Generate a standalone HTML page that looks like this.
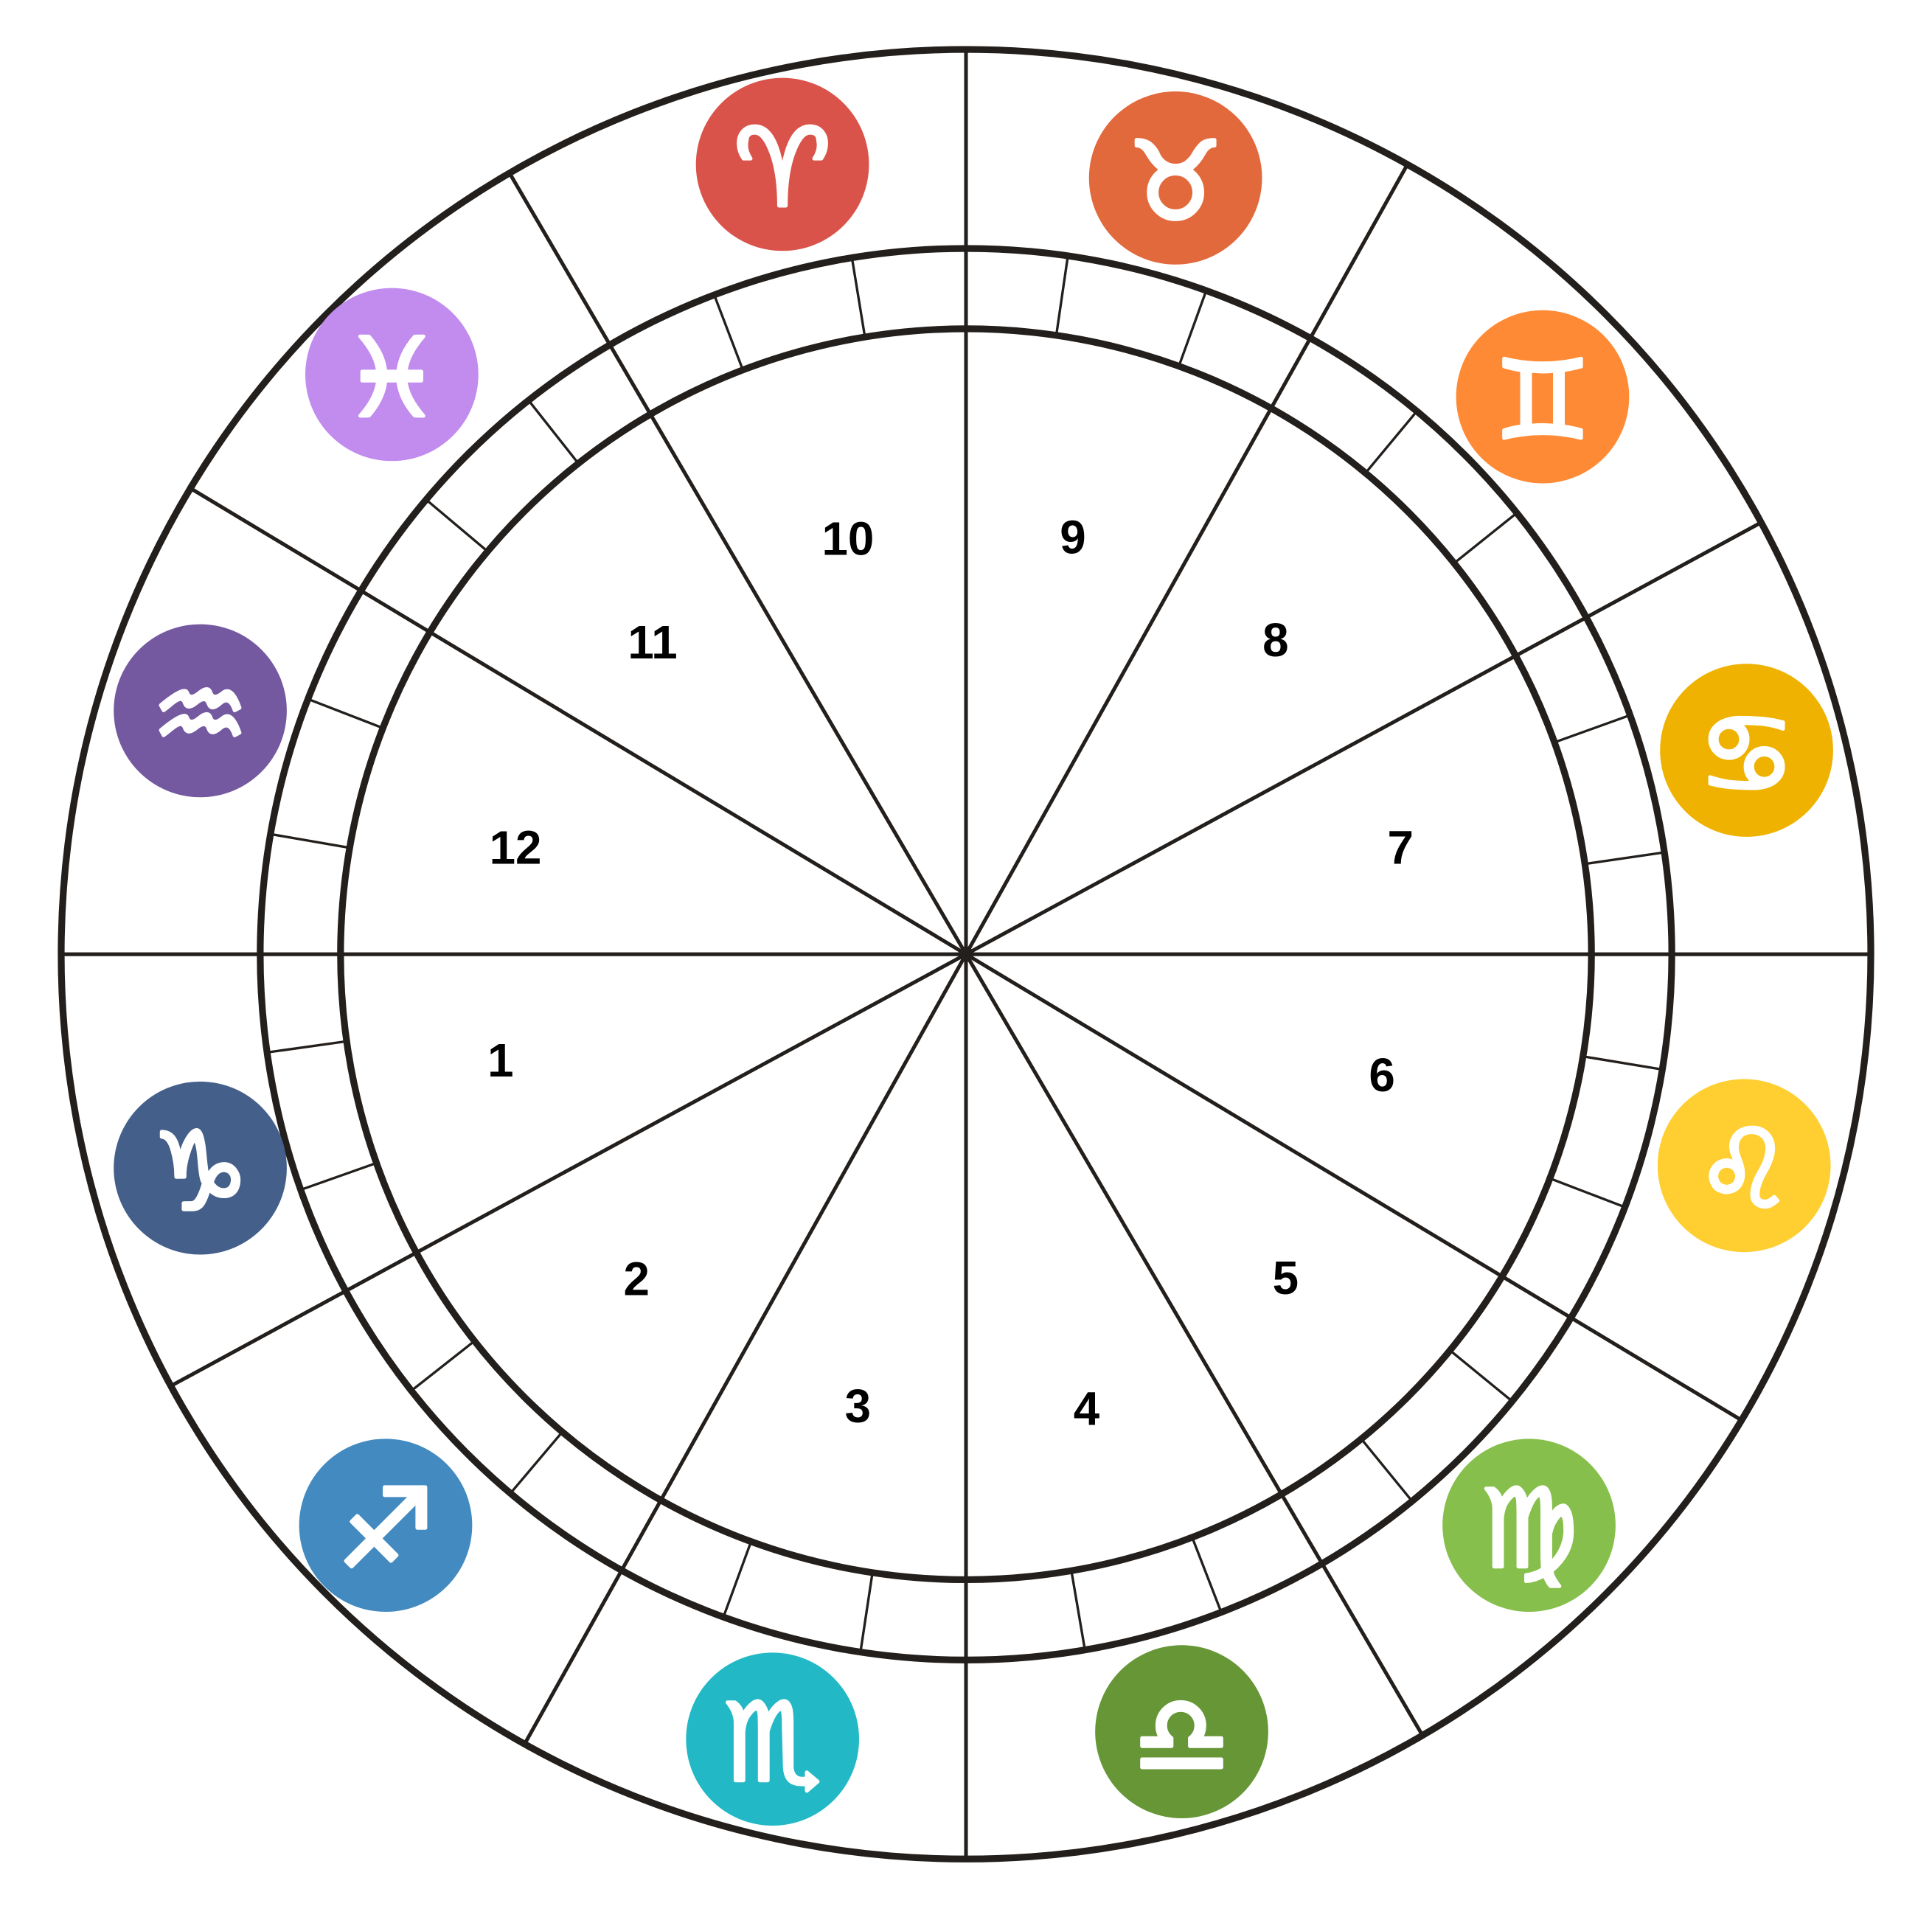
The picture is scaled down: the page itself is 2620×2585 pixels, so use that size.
<!DOCTYPE html>
<html><head><meta charset="utf-8"><style>
html,body{margin:0;padding:0;background:#fff;}
svg{display:block;}
</style></head><body>
<svg id="chart" width="2620" height="2585" viewBox="0 0 1563 1542" preserveAspectRatio="none" xmlns="http://www.w3.org/2000/svg"></svg>
<script>
const spokeAngles = [0, 28.5, 60.8, 90, 120.3, 149];
const tickAngles = [8.3, 19.8, 38.7, 50.3, 70.1, 81.7, 99.3, 110.9, 128.3, 139.9, 158.8, 170.2, 188, 199.5, 218.2, 229.8, 249.9, 261.4, 279.7, 291.2, 309.2, 320.7, 339, 350.6];
const houseLabels = ["10","9","8","11","12","7","1","6","2","5","3","4"];
const housePos = [[686,436],[868,435],[1032,518],[528,520],[417,686],[1133,686],[405,858],[1118,870],[515,1035],[1040,1034],[694,1138],[879,1140]];
const signNames = ["aries","taurus","gemini","cancer","leo","virgo","libra","scorpio","sagittarius","capricorn","aquarius","pisces"];
const signGlyphs = ["\u2648","\u2649","\u264A","\u264B","\u264C","\u264D","\u264E","\u264F","\u2650","\u2651","\u2652","\u2653"];
const signColors = ["#D9534A","#E2693C","#FF8A35","#EFB200","#FFCE30","#86BF4B","#669636","#22B8C6","#428ABF","#445F8A","#7559A0","#C18CEE"];
const signPos = [[633,133],[951,144],[1248,321],[1413,607],[1411,943],[1237,1234],[956,1401],[625,1407],[312,1234],[162,945],[162,575],[317,303]];

const NS="http://www.w3.org/2000/svg";
const svg=document.getElementById('chart');
const cx=781.5, cy=772, R0=732, R1=571, R2=506;
const ink="#231f1c";
function mk(tag,attrs,parent){const e=document.createElementNS(NS,tag);for(const k in attrs)e.setAttribute(k,attrs[k]);(parent||svg).appendChild(e);return e;}
function pt(a,r){const t=a*Math.PI/180;return [cx+r*Math.cos(t), cy-r*Math.sin(t)];}

for(const a of spokeAngles){
  const p=pt(a,R0), q=pt(a+180,R0);
  const l=mk('line',{x1:p[0],y1:p[1],x2:q[0],y2:q[1],stroke:ink,'stroke-width':3});
  
  
}
for(const a of tickAngles){
  const p=pt(a,R2), q=pt(a,R1);
  const l=mk('line',{x1:p[0],y1:p[1],x2:q[0],y2:q[1],stroke:ink,'stroke-width':2});
  
  
}
const rings=[[R0,5.5,'outer-ring'],[R1,5.5,'zodiac-ring'],[R2,5.5,'house-ring']];
for(const r of rings){
  const c=mk('circle',{cx:cx,cy:cy,r:r[0],fill:'none',stroke:ink,'stroke-width':r[1]});
  
  
}
mk('circle',{cx:cx,cy:cy,r:6,fill:ink});
houseLabels.forEach((h,i)=>{
  const t=mk('text',{x:housePos[i][0],y:housePos[i][1],'text-anchor':'middle','dominant-baseline':'central','font-family':'Liberation Sans, sans-serif','font-weight':'bold','font-size':38,fill:'#000'});
  t.textContent=h;
  
  
});
signNames.forEach((n,i)=>{
  const g=mk('g',{});
  
  
  mk('circle',{cx:signPos[i][0],cy:signPos[i][1],r:70,fill:signColors[i]},g);
  const t=mk('text',{x:signPos[i][0],y:signPos[i][1]+3,'text-anchor':'middle','dominant-baseline':'central','font-family':'DejaVu Sans, sans-serif','font-size':88,fill:'#fff',stroke:'#fff','stroke-width':3,'stroke-linejoin':'round'},g);
  t.textContent=signGlyphs[i]+'\uFE0E';
  
  
});
</script>
</body></html>
